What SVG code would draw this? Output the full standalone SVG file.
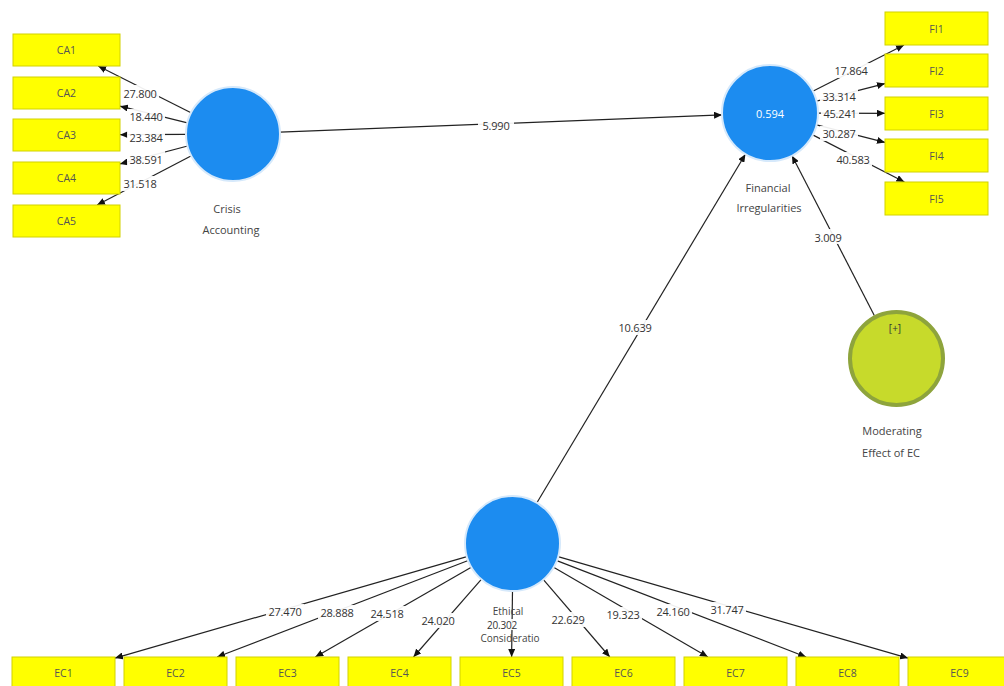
<svg xmlns="http://www.w3.org/2000/svg" width="1004" height="686" viewBox="0 0 1004 686">
<style>
.bg{fill:#ffffff}
.box{fill:#ffff00;stroke:#d2d200;stroke-width:1}
.btxt{font-family:"Open Sans","Noto Sans",sans-serif;font-size:10.5px;fill:#555;text-anchor:middle;dominant-baseline:central}
.lv{fill:#1c8cf0;stroke:#d6e9fb;stroke-width:2}
.mod{fill:#c7da2b;stroke:#8ea43c;stroke-width:4}
.ntxt{font-family:"Open Sans","Noto Sans",sans-serif;font-size:11px;fill:#444;text-anchor:middle;dominant-baseline:central}
.ln{stroke:#222;stroke-width:1.2;fill:none;marker-end:url(#ah)}
.lb{fill:#ffffff;fill-opacity:0.92}
.lt{font-family:"Open Sans","Noto Sans",sans-serif;font-size:11px;fill:#333;text-anchor:middle;dominant-baseline:central;letter-spacing:-0.2px}
.sm{font-size:10px}
</style>
<defs>
<marker id="ah" markerUnits="userSpaceOnUse" markerWidth="8" markerHeight="7" refX="8" refY="3.5" orient="auto">
<path d="M0,0 L8,3.5 L0,7 z" fill="#111"/>
</marker>
</defs>
<rect class="bg" x="0" y="0" width="1004" height="686"/>

<g id="connectors">
<line class="ln" x1="191" y1="112.8" x2="98.2" y2="66"/>
<line class="ln" x1="187.4" y1="122.8" x2="120" y2="106.2"/>
<line class="ln" x1="186" y1="134.3" x2="120" y2="134.7"/>
<line class="ln" x1="187.6" y1="146" x2="120" y2="163.9"/>
<line class="ln" x1="191.4" y1="155.8" x2="97.1" y2="205"/>
<line class="ln" x1="812.8" y1="91.3" x2="904" y2="45"/>
<line class="ln" x1="816.5" y1="101.1" x2="885" y2="83.6"/>
<line class="ln" x1="818" y1="113.1" x2="885" y2="113.3"/>
<line class="ln" x1="816.5" y1="124.9" x2="885" y2="142.4"/>
<line class="ln" x1="812.7" y1="134.9" x2="904.4" y2="182"/>
<line class="ln" x1="280" y1="132.2" x2="722" y2="114.9"/>
<line class="ln" x1="536.9" y1="502.7" x2="745.4" y2="154.2"/>
<line class="ln" x1="874.3" y1="315.4" x2="792" y2="155.7"/>
<line class="ln" x1="466.9" y1="556.7" x2="115" y2="658.1"/>
<line class="ln" x1="468.2" y1="560.5" x2="217.1" y2="657"/>
<line class="ln" x1="471.3" y1="567.2" x2="315.3" y2="657"/>
<line class="ln" x1="481.3" y1="579.3" x2="413.5" y2="657"/>
<line class="ln" x1="512.5" y1="591" x2="511.6" y2="657"/>
<line class="ln" x1="543.4" y1="579.6" x2="609.8" y2="657"/>
<line class="ln" x1="553.6" y1="567.3" x2="707.9" y2="657"/>
<line class="ln" x1="556.8" y1="560.6" x2="806.1" y2="657"/>
<line class="ln" x1="558.1" y1="556.7" x2="908" y2="658.1"/>

<rect class="lb" x="121" y="85" width="38" height="15"/><text class="lt" x="140" y="93">27.800</text>
<rect class="lb" x="127" y="109" width="38" height="15"/><text class="lt" x="146" y="116">18.440</text>
<rect class="lb" x="127" y="130" width="38" height="15"/><text class="lt" x="146" y="137">23.384</text>
<rect class="lb" x="127" y="151" width="38" height="15"/><text class="lt" x="146" y="159">38.591</text>
<rect class="lb" x="121" y="176" width="38" height="15"/><text class="lt" x="140" y="183">31.518</text>

<rect class="lb" x="832" y="63" width="38" height="15"/><text class="lt" x="851" y="70">17.864</text>
<rect class="lb" x="820" y="89" width="38" height="15"/><text class="lt" x="839" y="96">33.314</text>
<rect class="lb" x="821" y="105" width="38" height="15"/><text class="lt" x="840" y="113">45.241</text>
<rect class="lb" x="820" y="126" width="38" height="15"/><text class="lt" x="839" y="133">30.287</text>
<rect class="lb" x="834" y="152" width="38" height="15"/><text class="lt" x="853" y="159">40.583</text>

<rect class="lb" x="478" y="117" width="36" height="15"/><text class="lt" x="496" y="125">5.990</text>
<rect class="lb" x="615" y="320" width="40" height="15"/><text class="lt" x="635" y="327">10.639</text>
<rect class="lb" x="810" y="229" width="36" height="15"/><text class="lt" x="828" y="237">3.009</text>

<rect class="lb" x="266" y="604" width="38" height="15"/><text class="lt" x="285" y="611">27.470</text>
<rect class="lb" x="318" y="605" width="38" height="15"/><text class="lt" x="337" y="612">28.888</text>
<rect class="lb" x="368" y="606" width="38" height="15"/><text class="lt" x="387" y="613">24.518</text>
<rect class="lb" x="419" y="613" width="38" height="15"/><text class="lt" x="438" y="620">24.020</text>
<rect class="lb" x="549" y="612" width="38" height="15"/><text class="lt" x="568" y="619">22.629</text>
<rect class="lb" x="604" y="607" width="38" height="15"/><text class="lt" x="623" y="614">19.323</text>
<rect class="lb" x="654" y="604" width="38" height="15"/><text class="lt" x="673" y="611">24.160</text>
<rect class="lb" x="708" y="602" width="38" height="15"/><text class="lt" x="727" y="609">31.747</text>
</g>

<g id="CA1"><rect class="box" x="13" y="34" width="107" height="32"/><text class="btxt" x="66.5" y="50">CA1</text></g>
<g id="CA2"><rect class="box" x="13" y="77" width="107" height="32"/><text class="btxt" x="66.5" y="93">CA2</text></g>
<g id="CA3"><rect class="box" x="13" y="119" width="107" height="32"/><text class="btxt" x="66.5" y="135">CA3</text></g>
<g id="CA4"><rect class="box" x="13" y="162" width="107" height="32"/><text class="btxt" x="66.5" y="178">CA4</text></g>
<g id="CA5"><rect class="box" x="13" y="205" width="107" height="32"/><text class="btxt" x="66.5" y="221">CA5</text></g>

<g id="FI1"><rect class="box" x="885" y="12" width="103" height="33"/><text class="btxt" x="936.5" y="28.5">FI1</text></g>
<g id="FI2"><rect class="box" x="885" y="54" width="103" height="33"/><text class="btxt" x="936.5" y="70.5">FI2</text></g>
<g id="FI3"><rect class="box" x="885" y="97" width="103" height="33"/><text class="btxt" x="936.5" y="113.5">FI3</text></g>
<g id="FI4"><rect class="box" x="885" y="139" width="103" height="33"/><text class="btxt" x="936.5" y="155.5">FI4</text></g>
<g id="FI5"><rect class="box" x="885" y="182" width="103" height="33"/><text class="btxt" x="936.5" y="198.5">FI5</text></g>

<g id="EC1"><rect class="box" x="12" y="657" width="103" height="34"/><text class="btxt" x="63.5" y="673">EC1</text></g>
<g id="EC2"><rect class="box" x="124" y="657" width="103" height="34"/><text class="btxt" x="175.5" y="673">EC2</text></g>
<g id="EC3"><rect class="box" x="236" y="657" width="103" height="34"/><text class="btxt" x="287.5" y="673">EC3</text></g>
<g id="EC4"><rect class="box" x="348" y="657" width="103" height="34"/><text class="btxt" x="399.5" y="673">EC4</text></g>
<g id="EC5"><rect class="box" x="460" y="657" width="103" height="34"/><text class="btxt" x="511.5" y="673">EC5</text></g>
<g id="EC6"><rect class="box" x="572" y="657" width="103" height="34"/><text class="btxt" x="623.5" y="673">EC6</text></g>
<g id="EC7"><rect class="box" x="684" y="657" width="103" height="34"/><text class="btxt" x="735.5" y="673">EC7</text></g>
<g id="EC8"><rect class="box" x="796" y="657" width="103" height="34"/><text class="btxt" x="847.5" y="673">EC8</text></g>
<g id="EC9"><rect class="box" x="908" y="657" width="103" height="34"/><text class="btxt" x="959.5" y="673">EC9</text></g>

<g id="crisis-accounting">
<circle class="lv" cx="233" cy="134" r="47"/>
<text class="ntxt" x="227" y="208">Crisis</text>
<text class="ntxt" x="231" y="229">Accounting</text>
</g>
<g id="financial-irregularities">
<circle class="lv" cx="770" cy="113" r="48"/>
<text class="ntxt" x="770" y="113" style="fill:#ffffff">0.594</text>
<text class="ntxt" x="768" y="187">Financial</text>
<text class="ntxt" x="769" y="207">Irregularities</text>
</g>
<g id="ethical-considerations">
<circle class="lv" cx="512.5" cy="543.5" r="47.5"/>
<text class="ntxt sm" x="508" y="611">Ethical</text>
<rect class="lb" x="485" y="619" width="34" height="11"/>
<text class="lt sm" x="502" y="624.5">20.302</text>
<text class="ntxt sm" x="510" y="638">Consideratio</text>
</g>
<g id="moderating-effect">
<circle class="mod" cx="896.5" cy="358.5" r="46.5"/>
<text class="ntxt" x="895" y="328" style="font-size:10px;fill:#333">[+]</text>
<text class="ntxt" x="892" y="430">Moderating</text>
<text class="ntxt" x="891" y="452">Effect of EC</text>
</g>
</svg>
